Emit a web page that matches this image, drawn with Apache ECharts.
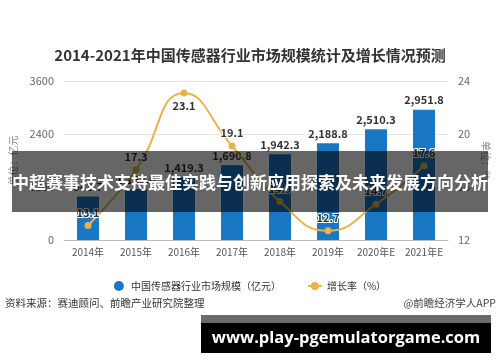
<!DOCTYPE html>
<html><head><meta charset="utf-8">
<script src="https://cdn.jsdelivr.net/npm/echarts@6/dist/echarts.min.js"></script>
<style>html,body{margin:0;padding:0;background:#fff}#c{width:500px;height:362px}</style>
</head><body><div id="c"></div>
<script>
const categories = ['2014年','2015年','2016年','2017年','2018年','2019年','2020年E','2021年E'];
const marketSize = [983.7, 1153.0, 1419.3, 1690.8, 1942.3, 2188.8, 2510.3, 2951.8];
const growthRate = [13.1, 17.3, 23.1, 19.1, 14.9, 12.7, 14.7, 17.6];
const leftTicks = [0, 1200, 2400, 3600];
const rightTicks = [12, 16, 20, 24];

const FONT = '"Noto Sans CJK SC", "Noto Sans", sans-serif';
const chart = echarts.init(document.getElementById('c'), null, {renderer: 'canvas'});
chart.setOption({
  backgroundColor: '#fff',
  textStyle: {fontFamily: FONT},
  title: {
    text: '2014-2021年中国传感器行业市场规模统计及增长情况预测',
    left: 'center', top: 43,
    textStyle: {fontSize: 15, fontWeight: 'bold', color: '#333', fontFamily: FONT}
  },
  legend: {
    top: 276, left: 'center',
    itemWidth: 14, itemHeight: 10, itemGap: 26,
    textStyle: {fontSize: 10, color: '#333'},
    data: [{name: '中国传感器行业市场规模（亿元）', icon: 'circle'}, {name: '增长率（%）'}]
  },
  grid: {left: 64, right: 52, top: 81, bottom: 122},
  xAxis: {
    type: 'category', data: categories,
    axisLine: {lineStyle: {color: '#bbb'}},
    axisTick: {alignWithLabel: true, length: 3, lineStyle: {color: '#bbb'}},
    axisLabel: {fontSize: 10, color: '#555', margin: 7, interval: 0}
  },
  yAxis: [
    {
      type: 'value', min: leftTicks[0], max: leftTicks[leftTicks.length-1], interval: 1200,
      name: '单位：亿元', nameLocation: 'middle', nameGap: 44, nameRotate: 90,
      nameTextStyle: {fontSize: 10, color: '#888'},
      axisLabel: {fontSize: 11, color: '#666', margin: 10, formatter: v => String(v)},
      axisLine: {show: false}, axisTick: {show: false},
      splitLine: {lineStyle: {color: '#e6e6e6'}}
    },
    {
      type: 'value', min: rightTicks[0], max: rightTicks[rightTicks.length-1], interval: 4,
      name: '单位：%', nameLocation: 'middle', nameGap: 28, nameRotate: -90,
      nameTextStyle: {fontSize: 10, color: '#888'},
      axisLabel: {fontSize: 11, color: '#666', margin: 10, formatter: v => String(v)},
      axisLine: {show: false}, axisTick: {show: false},
      splitLine: {show: false}
    }
  ],
  series: [
    {
      name: '中国传感器行业市场规模（亿元）', type: 'bar', data: marketSize, barWidth: 22,
      itemStyle: {color: '#1a77c3'},
      label: {show: true, position: 'top', fontSize: 11, fontWeight: 'bold', color: '#333', distance: 4,
        formatter: p => p.value.toLocaleString('en-US', {minimumFractionDigits: 1, maximumFractionDigits: 1})}
    },
    {
      name: '增长率（%）', type: 'line', yAxisIndex: 1, smooth: true,
      data: growthRate.map((v, i) => ({value: v, label: {position: i === 2 ? 'bottom' : 'top'}})),
      symbol: 'circle', symbolSize: 7,
      itemStyle: {color: '#e6b44a'}, lineStyle: {color: '#e6b44a', width: 2},
      label: {show: true, fontSize: 11, fontWeight: 'bold', color: '#333', textBorderColor: '#fff', textBorderWidth: 2, distance: 4}
    }
  ],
  graphic: [
    {type: 'text', left: 5, top: 298, style: {text: '资料来源：赛迪顾问、前瞻产业研究院整理', fontSize: 10.5, fill: '#333', fontFamily: FONT}},
    {type: 'text', right: 4, top: 298, style: {text: '@前瞻经济学人APP', fontSize: 10.5, fill: '#444', fontFamily: FONT}},
    {type: 'rect', shape: {x: 12, y: 151, width: 476, height: 61}, style: {fill: 'rgba(0,0,0,0.6)'}, z: 100},
    {type: 'text', x: 250, y: 183, style: {text: '中超赛事技术支持最佳实践与创新应用探索及未来发展方向分析', fontSize: 17, fontWeight: 'bold', fill: '#fff', align: 'center', verticalAlign: 'middle', fontFamily: FONT}, z: 101},
    {type: 'rect', shape: {x: 201, y: 315, width: 290, height: 8}, style: {fill: '#6a6a6a'}, z: 100},
    {type: 'rect', shape: {x: 201, y: 323, width: 290, height: 30}, style: {fill: '#000'}, z: 100},
    {type: 'text', x: 346, y: 338, style: {text: 'www.play-pgemulatorgame.com', fontSize: 16.5, fontWeight: 'bold', fill: '#fff', align: 'center', verticalAlign: 'middle', fontFamily: '"Open Sans", sans-serif'}, z: 101}
  ]
});
</script></body></html>
